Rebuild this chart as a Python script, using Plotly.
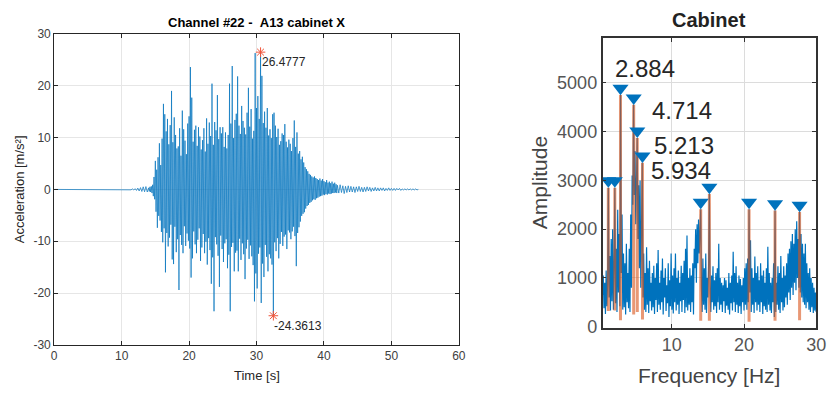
import numpy as np
import plotly.graph_objects as go

# ---------------- data: left panel (acceleration time history) ----------------
PRE_T = [0.0, 11.0]
PRE_A = [0.0, 0.0]
ONSET_START, ONSET_STEP = 11.2, 0.2
ONSET_A = [0.05, -0.08, 0.1, -0.12, 0.15, -0.2, 0.25, -0.3, 0.35, -0.4, 0.5, -0.45, 0.55, -0.5]
STRONG_START, STRONG_STEP = 14.0, 0.1
STRONG_A = [
    0.3, -0.4, 0.5, -0.5, 0.6, -0.7, 0.9, -1.3, 2.4, -1.9,
    5.5, -4.3, 3.8, -7.4, 6.2, -5.1, 8.9, -6.0, 4.7, -8.2,
    9.8, -10.2, 16.5, -7.5, 14.5, -16.0, 11.2, -8.4, 13.6, -11.0,
    8.7, -9.3, 12.4, -6.8, 19.0, -13.5, 9.1, -14.4, 13.9, -7.2,
    10.5, -12.1, 7.9, -9.6, 8.3, -19.4, 11.8, -8.8, 6.5, -10.7,
    15.2, -12.3, 11.6, -7.1, 9.4, -10.9, 6.8, -8.5, 12.7, -9.9,
    14.1, -11.4, 23.6, -17.0, 17.7, -13.3, 9.2, -8.1, 11.5, -10.6,
    12.3, -12.3, 8.4, -9.7, 12.0, -7.5, 10.2, -13.8, 7.7, -11.2,
    9.5, -8.6, 11.8, -12.3, 7.3, -10.1, 13.7, -14.5, 8.8, -9.4,
    12.9, -11.7, 10.3, -18.2, 20.4, -13.1, 8.6, -23.5, 13.0, -9.2,
    11.4, -10.6, 18.2, -12.8, 9.7, -18.8, 12.0, -8.9, 10.8, -11.5,
    12.0, -14.0, 8.2, -10.4, 11.0, -9.6, 7.9, -15.2, 10.5, -12.6,
    20.4, -23.5, 12.7, -11.1, 23.8, -10.3, 9.9, -15.8, 13.4, -12.2,
    14.6, -11.8, 21.8, -15.8, 12.3, -9.5, 10.7, -13.6, 16.1, -10.4,
    13.2, -12.5, 11.9, -17.3, 10.6, -11.4, 14.8, -9.7, 19.6, -13.4,
    12.1, -10.8, 15.5, -12.9, 9.8, -14.6, 11.3, -21.6, 26.3, -16.2,
    15.7, -19.1, 18.0, -12.4, 13.6, -11.2, 26.4777, -21.9, 21.9, -14.3,
    12.8, -16.9, 15.0, -10.7, 11.9, -13.0, 15.7, -15.8, 10.4, -12.5,
    11.6, -13.3, 9.9, -14.5, 14.5, -24.3613, 14.8, -10.2, 12.3, -11.9,
    10.1, -9.4, 11.7, -13.3, 8.6, -10.5, 9.3, -8.2, 10.8, -10.9,
    10.5, -9.1, 12.6, -8.7, 9.2, -11.5, 8.1, -7.9, 9.6, -8.3,
    8.8, -9.6, 7.4, -8.1, 9.9, -7.2, 13.3, -9.0, 8.2, -14.8,
    11.0, -8.4, 6.9, -7.3, 7.4, -6.2, 5.8, -5.1, 6.3, -4.7,
    5.2, -4.4, 4.3, -3.7, 3.9, -3.2, 3.5, -3.0, 3.0, -2.6,
    2.8, -2.4, 2.5, -2.1, 2.3, -1.9, 2.5, -2.0, 2.2, -1.7,
    2.0, -1.6, 1.8, -1.4, 2.1, -1.3, 1.7, -1.2, 2.0, -1.0,
    1.6, -1.1, 1.4, -0.9, 1.8, -1.0, 1.3, -0.8, 1.5, -0.9,
    1.2, -0.8, 1.5, -0.7, 1.1, -0.7, 1.3, -0.6, 1.0, -0.7,
]
CODA_START, CODA_STEP = 42.0, 0.2
CODA_A = [
    0.8, -0.7, 0.9, -0.6, 0.7, -0.8, 0.6, -0.6, 0.7, -0.5,
    0.6, -0.5, 0.5, -0.6, 0.5, -0.4, 0.6, -0.4, 0.4, -0.5,
    0.4, -0.4, 0.5, -0.3, 0.4, -0.4, 0.3, -0.3, 0.4, -0.3,
    0.3, -0.3, 0.3, -0.2, 0.3, -0.3, 0.2, -0.2, 0.3, -0.2,
    0.2, -0.2, 0.2, -0.2, 0.2, -0.1, 0.2, -0.2, 0.1, -0.1,
    0.1, -0.1, 0.1, -0.1, 0.1, -0.1, 0.1, -0.1, 0.1, -0.1, 0.0,
]
LEFT_TITLE = "Channel #22 - \u00a0A13 cabinet X"
LEFT_XLABEL = "Time [s]"
LEFT_YLABEL = "Acceleration [m/s²]"
LEFT_XTICKS = [0, 10, 20, 30, 40, 50, 60]
LEFT_YTICKS = [-30, -20, -10, 0, 10, 20, 30]
LEFT_YTICKTEXT = ["-30", "-20", "-10", "0", "10", "20", "30"]

# ---------------- data: right panel (amplitude spectrum) ----------------
SPEC_START, SPEC_STEP = 0.4, 0.1
SPEC_A = [
    650, 1050, 380, 900, 260, 1150, 420, 880, 2850, 600,
    1450, 330, 1800, 520, 2000, 350, 1200, 2850, 480, 1600,
    300, 2400, 700, 1900, 420, 4750, 1100, 2300, 350, 1500,
    400, 1300, 250, 1700, 500, 1100, 380, 1600, 300, 2300,
    800, 3100, 2500, 4550, 2700, 3600, 2100, 3300, 3870, 1800,
    2900, 1200, 3000, 800, 2600, 3360, 600, 1500, 350, 1100,
    300, 1630, 450, 1200, 280, 1350, 520, 900, 330, 1100,
    400, 1250, 260, 1000, 550, 1300, 300, 1570, 450, 900,
    350, 1150, 500, 1400, 250, 1000, 600, 1200, 320, 850,
    480, 1300, 200, 950, 420, 1500, 350, 1050, 270, 1200,
    500, 1500, 330, 1000, 450, 1150, 260, 900, 520, 1250,
    300, 1100, 550, 1350, 280, 1600, 400, 1870, 330, 1000,
    450, 1200, 300, 1050, 500, 1300, 250, 1600, 1200, 2000,
    900, 2100, 1300, 2200, 1500, 2000, 2410, 800, 300, 1400,
    450, 1200, 350, 1500, 280, 1000, 600, 1300, 2720, 700,
    300, 1050, 500, 1240, 350, 950, 420, 1100, 280, 1200,
    500, 1700, 350, 1000, 450, 900, 300, 850, 520, 1000,
    280, 950, 430, 800, 350, 1100, 250, 900, 480, 1050,
    330, 1535, 500, 1100, 300, 1240, 450, 900, 280, 1050,
    420, 980, 260, 850, 500, 1000, 330, 1200, 450, 1300,
    350, 1400, 500, 2410, 700, 1770, 300, 1200, 450, 1000,
    280, 1440, 500, 1100, 330, 1240, 450, 950, 300, 1300,
    500, 1050, 260, 1150, 420, 900, 350, 1200, 300, 1640,
    450, 1100, 330, 900, 280, 1000, 500, 1300, 200, 2380,
    300, 900, 450, 1240, 350, 1100, 280, 1450, 500, 1000,
    330, 1240, 400, 1050, 600, 1300, 450, 1500, 700, 1600,
    550, 1750, 800, 1900, 650, 1700, 900, 2000, 750, 2160,
    1000, 1800, 800, 2350, 700, 1900, 600, 1700, 500, 1500,
    450, 1700, 380, 1300, 500, 1100, 350, 1200, 300, 1000,
    400, 900, 280, 800, 330, 700, 300,
]
PEAK_F = [1.2, 2.1, 2.884, 4.714, 5.213, 5.934, 14.0, 15.2, 20.7, 24.3, 27.7]
PEAK_A = [2850, 2850, 4750, 4550, 3870, 3360, 2410, 2720, 2410, 2380, 2350]
PEAK_BASE = [320, 330, 130, 250, 300, 150, 120, 120, 100, 120, 130]
LABELLED_PEAKS = [2, 3, 4, 5]
RIGHT_TITLE = "Cabinet"
RIGHT_XLABEL = "Frequency [Hz]"
RIGHT_YLABEL = "Amplitude"
RIGHT_XTICKS = [10, 20, 30]
RIGHT_YTICKS = [0, 1000, 2000, 3000, 4000, 5000]

# ---------------- style ----------------
W, H = 838, 401
FONT = "Liberation Sans, Arial, Helvetica, sans-serif"
BLUE = "#0072BD"
ORANGE = "rgba(217,83,25,0.6)"
AX = "#262626"
L_DOM_X = [52 / W, 463 / W]
L_DOM_Y = [(H - 352) / H, (H - 28) / H]
R_DOM_X = [609 / W, 826 / W]
R_DOM_Y = [(H - 334) / H, (H - 32) / H]
MARKER_OFFSET = 140  # data units: marker centre above peak tip
LABEL_SHIFTS = {2: (-7, 27), 3: (16, -6), 4: (15, -8), 5: (7, -8)}

# ---------------- build ----------------
t = np.concatenate([
    np.array(PRE_T),
    ONSET_START + ONSET_STEP * np.arange(len(ONSET_A)),
    STRONG_START + STRONG_STEP * np.arange(len(STRONG_A)),
    CODA_START + CODA_STEP * np.arange(len(CODA_A)),
])
acc = np.concatenate([PRE_A, ONSET_A, STRONG_A, CODA_A])
imax, imin = int(np.argmax(acc)), int(np.argmin(acc))

freq = SPEC_START + SPEC_STEP * np.arange(len(SPEC_A))

fig = go.Figure()
fig.add_trace(go.Scatter(x=t, y=acc, mode="lines", line=dict(color=BLUE, width=0.7),
                         xaxis="x", yaxis="y", hoverinfo="skip"))
fig.add_trace(go.Scatter(x=[t[imax], t[imin]], y=[acc[imax], acc[imin]], mode="markers",
                         marker=dict(symbol="asterisk-open", size=8, line=dict(color="red", width=1)),
                         xaxis="x", yaxis="y"))

fig.add_trace(go.Scatter(x=freq, y=SPEC_A, mode="lines", line=dict(color=BLUE, width=1.2),
                         xaxis="x2", yaxis="y2", hoverinfo="skip"))
ox, oy = [], []
for f, a, b in zip(PEAK_F, PEAK_A, PEAK_BASE):
    ox += [f, f, None]
    oy += [b, a, None]
fig.add_trace(go.Scatter(x=ox, y=oy, mode="lines", line=dict(color=ORANGE, width=3),
                         xaxis="x2", yaxis="y2"))
fig.add_trace(go.Scatter(x=PEAK_F, y=[a + MARKER_OFFSET for a in PEAK_A], mode="markers",
                         marker=dict(symbol="triangle-down", size=14, color=BLUE),
                         xaxis="x2", yaxis="y2"))

ann = []
for i in (imax, imin):
    ann.append(dict(x=t[i], y=acc[i], xref="x", yref="y", text=f"{acc[i]:.4f}".rstrip("0"),
                    showarrow=False, xanchor="left", yanchor="top", xshift=-1, yshift=-1,
                    font=dict(size=12, color=AX, family=FONT)))
for i in LABELLED_PEAKS:
    dx, dy = LABEL_SHIFTS[i]
    ann.append(dict(x=PEAK_F[i], y=PEAK_A[i], xref="x2", yref="y2", text=f"{PEAK_F[i]:.3f}",
                    showarrow=False, xanchor="left", yanchor="middle", xshift=dx, yshift=dy,
                    font=dict(size=24, color=AX, family=FONT)))

def paper_ann(text, xpx, ypx, size, bold=False, angle=0, color=AX):
    return dict(x=xpx / W, y=(H - ypx) / H, xref="paper", yref="paper",
                text=f"<b>{text}</b>" if bold else text, showarrow=False,
                xanchor="center", yanchor="middle", textangle=angle,
                font=dict(size=size, color=color, family=FONT))

ann += [
    paper_ann(LEFT_TITLE, 257.5, 16, 13, bold=True, color="#000"),
    paper_ann(LEFT_XLABEL, 257.5, 384, 13),
    paper_ann(LEFT_YLABEL, 17, 190, 13, angle=-90),
    paper_ann(RIGHT_TITLE, 717.5, 14, 20, bold=True, color="#222"),
    paper_ann(RIGHT_XLABEL, 717.5, 384, 21, color="#444"),
    paper_ann(RIGHT_YLABEL, 545, 183, 21, angle=-90, color="#444"),
]

common_l = dict(showgrid=True, gridcolor="#e6e6e6", gridwidth=1, zeroline=False, showline=True,
                linecolor=AX, linewidth=1, mirror="ticks", ticks="inside", ticklen=4,
                tickcolor=AX, tickfont=dict(size=12, color="#404040", family=FONT))
common_r = dict(showgrid=True, gridcolor="#dcdcdc", gridwidth=1, zeroline=False, showline=True,
                linecolor="#333", linewidth=1.6, mirror="ticks", ticks="inside", ticklen=4,
                tickcolor="#333", tickfont=dict(size=18, color="#555", family=FONT))

fig.update_layout(
    width=W, height=H, margin=dict(l=0, r=0, t=0, b=0),
    paper_bgcolor="white", plot_bgcolor="white", showlegend=False,
    xaxis=dict(domain=L_DOM_X, range=[0, 60], tickvals=LEFT_XTICKS, anchor="y", **common_l),
    yaxis=dict(domain=L_DOM_Y, range=[-30, 30], tickvals=LEFT_YTICKS, ticktext=LEFT_YTICKTEXT,
               anchor="x", **common_l),
    xaxis2=dict(domain=R_DOM_X, range=[0.4, 30], tickvals=RIGHT_XTICKS, anchor="y2", **common_r),
    yaxis2=dict(domain=R_DOM_Y, range=[-20, 5925], tickvals=RIGHT_YTICKS, anchor="x2", **common_r),
    annotations=ann,
)
fig.write_html("out.html")
